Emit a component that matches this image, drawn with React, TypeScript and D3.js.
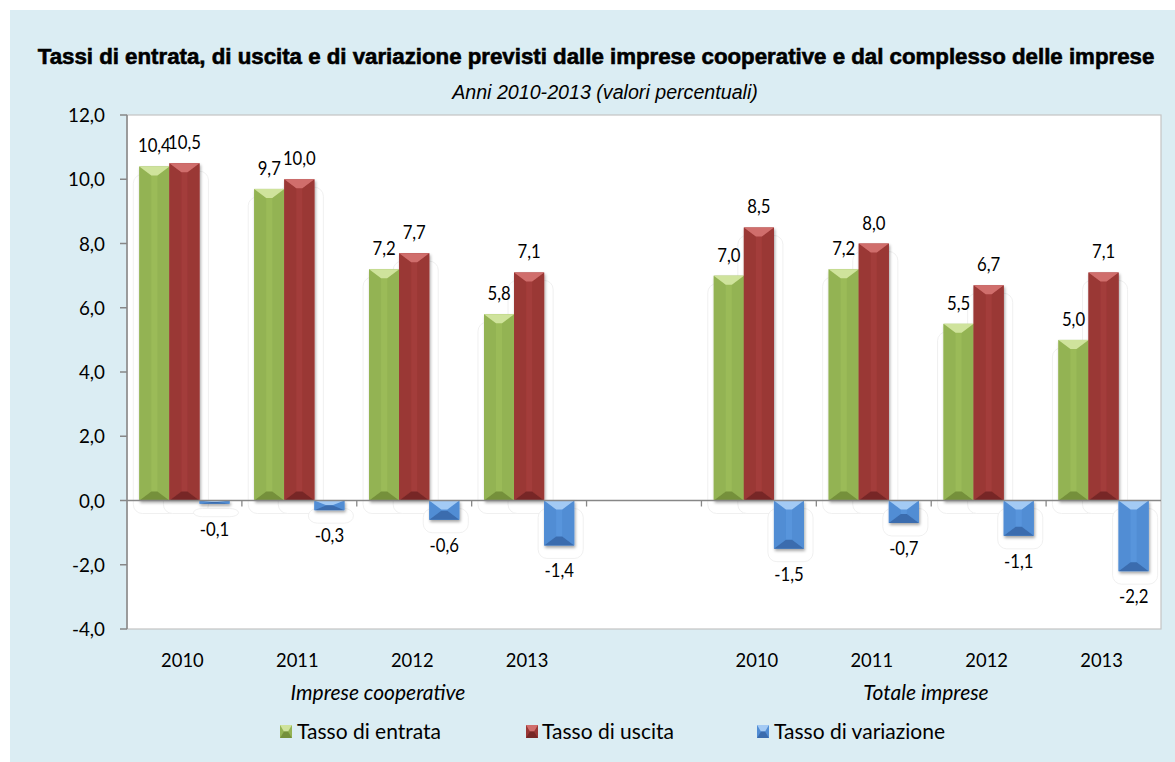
import React from "react";
import * as d3 from "d3";

const years = ["2010", "2011", "2012", "2013"];
const groups = ["Imprese cooperative", "Totale imprese"];
const seriesNames = ["Tasso di entrata", "Tasso di uscita", "Tasso di variazione"];
const entrataCoop = [10.4, 9.7, 7.2, 5.8];
const entrataTot = [7.0, 7.2, 5.5, 5.0];
const uscitaCoop = [10.5, 10.0, 7.7, 7.1];
const uscitaTot = [8.5, 8.0, 6.7, 7.1];
const variazioneCoop = [-0.1, -0.3, -0.6, -1.4];
const variazioneTot = [-1.5, -0.7, -1.1, -2.2];
const yTicks = [-4, -2, 0, 2, 4, 6, 8, 10, 12];
const title = "Tassi di entrata, di uscita e di variazione previsti dalle imprese cooperative e dal complesso delle imprese";
const subtitle = "Anni 2010-2013 (valori percentuali)";

const colors = [
  { face: "#9bbb59", top: "#cfe39c", bottom: "#74903a", side: "#93b353" },
  { face: "#a33c3a", top: "#d06e6c", bottom: "#772826", side: "#9a3735" },
  { face: "#5895dc", top: "#a3caf4", bottom: "#3a6cae", side: "#518dd4" },
];

const W = 1175, H = 762;
const PX0 = 127, PX1 = 1161, PY0 = 115, PY1 = 629;
const FONT = "Lato, 'Open Sans', sans-serif";
const ARIAL = "'Liberation Sans', Arial, sans-serif";

const fmt = (v: number) => d3.format(".1f")(v).replace(".", ",").replace("−", "-");

function measure(text: string, font: string): number {
  const ctx = document.createElement("canvas").getContext("2d");
  if (!ctx) return text.length * 10;
  ctx.font = font;
  return ctx.measureText(text).width;
}

function FitText({ text, cx, y, width, size, bold, italic }: { text: string; cx: number; y: number; width: number; size: number; bold?: boolean; italic?: boolean }) {
  const font = `${italic ? "italic " : ""}${bold ? "bold " : ""}${size}px 'Liberation Sans', Arial, sans-serif`;
  const nat = measure(text, font) || 1;
  const sx = width / nat;
  return (
    <text transform={`translate(${cx},${y}) scale(${sx},1)`} textAnchor="middle" fontFamily={ARIAL}
      fontWeight={bold ? "bold" : "normal"} fontStyle={italic ? "italic" : "normal"} fontSize={size}
      stroke={bold ? "#000" : "none"} strokeWidth={bold ? 0.6 : 0} fill="#000">{text}</text>
  );
}

function Bevel({ x, y, w, h, c }: { x: number; y: number; w: number; h: number; c: typeof colors[0] }) {
  const hx = Math.min(12, w / 2 - 2);
  const vy = Math.min(9, h / 2);
  const pts = (a: number[][]) => a.map((p) => p.join(",")).join(" ");
  return (
    <g>
      <rect x={x} y={y} width={w} height={h} fill={c.face} />
      <polygon points={pts([[x, y], [x + hx, y + vy], [x + hx, y + h - vy], [x, y + h]])} fill={c.side} />
      <polygon points={pts([[x + w, y], [x + w - hx, y + vy], [x + w - hx, y + h - vy], [x + w, y + h]])} fill={c.side} />
      <polygon points={pts([[x, y], [x + w, y], [x + w - hx, y + vy], [x + hx, y + vy]])} fill={c.top} />
      <polygon points={pts([[x, y + h], [x + w, y + h], [x + w - hx, y + h - vy], [x + hx, y + h - vy]])} fill={c.bottom} />
    </g>
  );
}

export default function App() {
  const cats = [
    ...years.map((yv) => "c" + yv),
    "gap",
    ...years.map((yv) => "t" + yv),
  ];
  const x = d3.scaleBand<string>().domain(cats).range([PX0, PX1]).paddingInner(0).paddingOuter(0);
  const xs = d3.scaleBand<number>().domain([0, 1, 2]).range([0, x.bandwidth()]).paddingInner(0).paddingOuter(0.41);
  const y = d3.scaleLinear().domain([-4, 12]).range([PY1, PY0]);

  const data = [
    [entrataCoop, entrataTot],
    [uscitaCoop, uscitaTot],
    [variazioneCoop, variazioneTot],
  ];
  type Bar = { key: string; s: number; v: number; bx: number; bw: number };
  const bars: Bar[] = [];
  data.forEach((sv, s) => {
    sv.forEach((arr, g) => {
      arr.forEach((v, i) => {
        const key = (g === 0 ? "c" : "t") + years[i];
        bars.push({ key, s, v, bx: (x(key) as number) + (xs(s) as number), bw: xs.bandwidth() });
      });
    });
  });

  const boundaries = d3.range(1, cats.length).map((i) => PX0 + i * x.step());
  const groupX = [378, 926];
  const legendX = [280, 526, 757];
  const legendTextX = [297, 542, 774];

  return (
    <svg width={W} height={H} style={{ position: "absolute", left: 0, top: 0 }}>
      <defs>
        <filter id="sh" x="-30%" y="-30%" width="160%" height="160%">
          <feDropShadow dx="1" dy="2" stdDeviation="1.6" floodColor="#000" floodOpacity="0.35" />
        </filter>
      </defs>
      <rect x={0} y={0} width={W} height={H} fill="#ffffff" />
      <rect x={10} y={10} width={W - 10} height={H - 10} fill="#dbedf3" />
      <FitText text={title} cx={596} y={64} width={1117} size={22} bold />
      <FitText text={subtitle} cx={605} y={99} width={306} size={19.5} italic />

      <rect x={PX0} y={PY0} width={PX1 - PX0} height={PY1 - PY0} fill="#ffffff" stroke="#c4c4c4" strokeWidth={1.2} />

      {/* faint reflections */}
      {bars.map((b, i) => {
        const y0 = Math.min(y(b.v), y(0)) + 8;
        const y1 = Math.max(y(b.v), y(0)) + 13;
        return (
          <rect key={"r" + i} x={b.bx - 6} y={y0} width={b.bw + 15} height={y1 - y0} rx={9}
            fill="#ffffff" stroke="#eeeeee" strokeWidth={0.9} />
        );
      })}

      {/* y axis */}
      <line x1={PX0} x2={PX0} y1={PY0} y2={PY1} stroke="#878787" strokeWidth={1.5} />
      {yTicks.map((t) => (
        <g key={t}>
          <line x1={PX0 - 7} x2={PX0} y1={y(t)} y2={y(t)} stroke="#878787" strokeWidth={1.5} />
          <text transform={`translate(105,${y(t)}) scale(0.94,1)`} dy="0.36em" textAnchor="end" fontFamily={FONT} fontSize={20} fill="#000">{fmt(t)}</text>
        </g>
      ))}

      {/* bars */}
      <g filter="url(#sh)">
        {bars.map((b, i) => {
          const top = Math.min(y(b.v), y(0));
          const h = Math.abs(y(b.v) - y(0));
          return <Bevel key={"b" + i} x={b.bx} y={top} w={b.bw} h={h} c={colors[b.s]} />;
        })}
      </g>

      {/* zero axis */}
      <line x1={PX0} x2={PX1} y1={y(0)} y2={y(0)} stroke="#878787" strokeWidth={1.5} />
      {boundaries.map((bx) => (
        <line key={bx} x1={bx} x2={bx} y1={y(0)} y2={y(0) + 6} stroke="#878787" strokeWidth={1.3} />
      ))}

      {/* value labels */}
      {bars.map((b, i) => (
        <text key={"l" + i}
          transform={`translate(${b.bx + b.bw / 2},${b.v >= 0 ? y(b.v) - 14 : y(b.v) + 32}) scale(0.88,1)`}
          textAnchor="middle" fontFamily={FONT} fontSize={19} fill="#000">{fmt(b.v)}</text>
      ))}

      {/* category labels */}
      {cats.filter((c) => c !== "gap").map((c) => (
        <text key={c} transform={`translate(${(x(c) as number) + x.bandwidth() / 2 - 2},667) scale(0.92,1)`} textAnchor="middle"
          fontFamily={FONT} fontSize={20} fill="#000">{c.slice(1)}</text>
      ))}
      {groups.map((g, i) => (
        <text key={g} x={groupX[i]} y={700} textAnchor="middle" fontFamily={FONT} fontStyle="italic"
          fontSize={21} fill="#000">{g}</text>
      ))}

      {/* legend */}
      {seriesNames.map((n, i) => (
        <g key={n}>
          <Bevel x={legendX[i]} y={725} w={12} h={13} c={colors[i]} />
          <text x={legendTextX[i]} y={739} fontFamily={FONT} fontSize={21} fill="#000">{n}</text>
        </g>
      ))}
    </svg>
  );
}
